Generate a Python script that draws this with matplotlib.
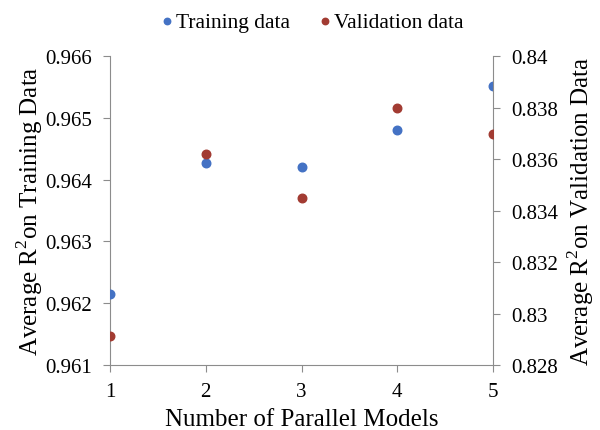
import matplotlib.pyplot as plt

plt.rcParams['font.family'] = 'Liberation Serif'
plt.rcParams['mathtext.fontset'] = 'custom'
plt.rcParams['mathtext.rm'] = 'Liberation Serif'

models = [1, 2, 3, 4, 5]
train_r2 = [0.96215, 0.96427, 0.96420, 0.96481, 0.96552]
valid_r2 = [0.82913, 0.83619, 0.83449, 0.83797, 0.83696]

blue = '#4472C4'
red = '#A23B32'
grey = '#8C8C8C'

fig = plt.figure(figsize=(6, 4.31), dpi=100)
ax = fig.add_axes([0.1833, 0.1508, 0.6384, 0.7169])
ax2 = ax.twinx()

ax.scatter(models, train_r2, s=38, color=blue, zorder=3, label='Training data')
ax2.scatter(models, valid_r2, s=38, color=red, zorder=3, label='Validation data')

ax.set_xlim(1, 5)
ax.set_ylim(0.961, 0.966)
ax2.set_ylim(0.828, 0.84)
ax.set_xticks(models)
ax.set_yticks([0.961, 0.962, 0.963, 0.964, 0.965, 0.966])
ax.set_yticklabels(['0.961', '0.962', '0.963', '0.964', '0.965', '0.966'])
ax2.set_yticks([0.828, 0.83, 0.832, 0.834, 0.836, 0.838, 0.84])
ax2.set_yticklabels(['0.828', '0.83', '0.832', '0.834', '0.836', '0.838', '0.84'])

for a in (ax, ax2):
    a.spines['top'].set_visible(False)
    for s in ('left', 'right', 'bottom'):
        a.spines[s].set_color(grey)
    a.tick_params(colors=grey, labelcolor='black', labelsize=15, length=5, pad=8)
ax.spines['right'].set_visible(False)
ax2.spines['left'].set_visible(False)
ax2.spines['bottom'].set_visible(False)
ax.tick_params(axis='x', pad=7)

ax.set_xlabel('Number of Parallel Models', fontsize=18, labelpad=5)
ax.set_ylabel(r'Average R$^{2}$on Training Data', fontsize=18, labelpad=0)
ax2.set_ylabel(r'Average R$^{2}$on Validation Data', fontsize=18, labelpad=5)

fig.legend(loc='upper center', bbox_to_anchor=(0.52, 1.015), ncol=2, frameon=False,
           fontsize=15.5, markerscale=0.75, handlelength=0.6, handletextpad=0.15,
           columnspacing=1.3)

fig.savefig('out.png', dpi=100)
